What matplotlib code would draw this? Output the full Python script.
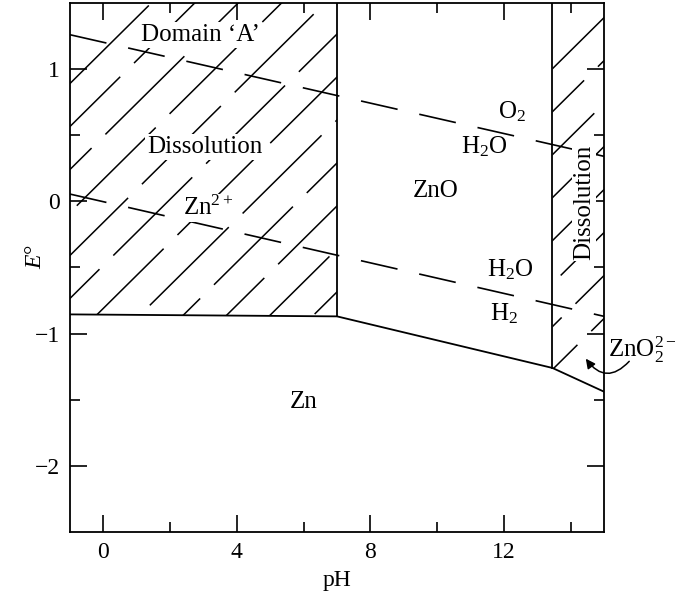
import numpy as np
import matplotlib

matplotlib.use("Agg")

import matplotlib.pyplot as plt
from matplotlib.patches import Polygon

plt.rcParams["font.family"] = ["Liberation Serif", "DejaVu Serif"]
plt.rcParams["mathtext.fontset"] = "custom"
plt.rcParams["mathtext.rm"] = "Liberation Serif"
plt.rcParams["mathtext.it"] = "Liberation Serif:italic"
plt.rcParams["lines.scale_dashes"] = False

# stability boundaries (pH, E)
ph_zn2_zno = 7.0
ph_zno_zno2 = 13.45
zn_ph = [-1.0, 7.0, 13.45, 15.0]
zn_e = [-0.855, -0.87, -1.26, -1.44]

# water lines
water_ph = [-1.0, 15.0]
o2_e = [1.26, 0.34]
h2_e = [0.055, -0.87]

x_range = (-1, 15)
y_range = (-2.5, 1.5)
x_major = [0, 4, 8, 12]
x_minor = [2, 6, 10, 14]
y_major = [-2, -1, 0, 1]
y_minor = [-1.5, -0.5, 0.5]

fig = plt.figure(figsize=(6.85, 5.93), dpi=100)
ax = fig.add_axes([0.102, 0.103, 0.78, 0.892])
ax.set_xlim(*x_range)
ax.set_ylim(*y_range)

# boundary lines
lw = 1.3
ax.plot(zn_ph, zn_e, color="black", lw=lw, zorder=3)
ax.plot([ph_zn2_zno, ph_zn2_zno], [zn_e[1], y_range[1]], color="black", lw=lw, zorder=3)
ax.plot([ph_zno_zno2, ph_zno_zno2], [zn_e[2], y_range[1]], color="black", lw=lw, zorder=3)

# dashed water lines
for e in (o2_e, h2_e):
    ax.plot(water_ph, e, color="black", lw=1.2, linestyle=(0, (27, 16)), zorder=2)

# hatched dissolution regions
zn2_poly = Polygon([(x_range[0], zn_e[0]), (ph_zn2_zno, zn_e[1]),
                    (ph_zn2_zno, y_range[1]), (x_range[0], y_range[1])],
                   closed=True, fc="none", ec="none")
zno2_poly = Polygon([(ph_zno_zno2, zn_e[2]), (x_range[1], zn_e[3]),
                     (x_range[1], y_range[1]), (ph_zno_zno2, y_range[1])],
                    closed=True, fc="none", ec="none")
ax.add_patch(zn2_poly)
ax.add_patch(zno2_poly)

slope = 0.25        # 45 degrees on screen
spacing = 1.3       # pH units between hatch lines
hx = np.array(x_range, dtype=float)
for poly, start in ((zn2_poly, -8.0), (zno2_poly, 6.0)):
    for i, p0 in enumerate(np.arange(start, 15.5, spacing)):
        he = -0.86 + slope * (hx - p0)
        line, = ax.plot(hx, he, color="black", lw=1.1, zorder=1,
                        linestyle=((i * 29) % 95, (80, 14)))
        line.set_clip_path(poly)

# labels
box = dict(fc="white", ec="none", pad=1.5)
fs = 18
ax.text(2.9, 1.26, "Domain \u2018A\u2019", fontsize=fs, ha="center", va="center", bbox=box, zorder=5)
ax.text(3.05, 0.41, "Dissolution", fontsize=fs, ha="center", va="center", bbox=box, zorder=5)
ax.text(3.15, -0.05, "Zn$^{2+}$", fontsize=fs, ha="center", va="center", bbox=box, zorder=5)
ax.text(9.95, 0.08, "ZnO", fontsize=fs, ha="center", va="center", zorder=5)
ax.text(12.25, 0.68, "O$_2$", fontsize=fs, ha="center", va="center", zorder=5)
ax.text(11.4, 0.41, "H$_2$O", fontsize=fs, ha="center", va="center", zorder=5)
ax.text(12.2, -0.52, "H$_2$O", fontsize=fs, ha="center", va="center", zorder=5)
ax.text(12.0, -0.85, "H$_2$", fontsize=fs, ha="center", va="center", zorder=5)
ax.text(14.4, -0.01, "Dissolution", fontsize=fs, rotation=90, ha="center", va="center",
        bbox=dict(fc="white", ec="none", pad=0.5), zorder=5)
ax.text(6.0, -1.52, "Zn", fontsize=fs, ha="center", va="center", zorder=5)
ax.text(16.15, -1.12, "ZnO$_2^{2-}$", fontsize=fs, ha="center", va="center", clip_on=False, zorder=5)
ax.annotate("", xy=(14.45, -1.19), xytext=(15.75, -1.21),
            arrowprops=dict(arrowstyle="-|>", color="black", lw=1.1,
                            connectionstyle="arc3,rad=-0.6", mutation_scale=14,
                            shrinkA=0, shrinkB=0),
            annotation_clip=False, zorder=6)

# axes styling
ax.set_xticks(x_major)
ax.set_xticks(x_minor, minor=True)
ax.set_yticks(y_major)
ax.set_yticks(y_minor, minor=True)
ax.tick_params(which="both", direction="in", top=True, right=True, width=1.2,
               labelsize=17, pad=7)
ax.tick_params(which="major", length=12)
ax.tick_params(which="minor", length=7)
for s in ax.spines.values():
    s.set_linewidth(1.3)

ax.set_xlabel("pH", fontsize=17, labelpad=5)
ax.set_ylabel("$E$\u00b0", fontsize=17)
ax.yaxis.set_label_coords(-0.045, 0.52)

fig.savefig("out.png", dpi=100)
